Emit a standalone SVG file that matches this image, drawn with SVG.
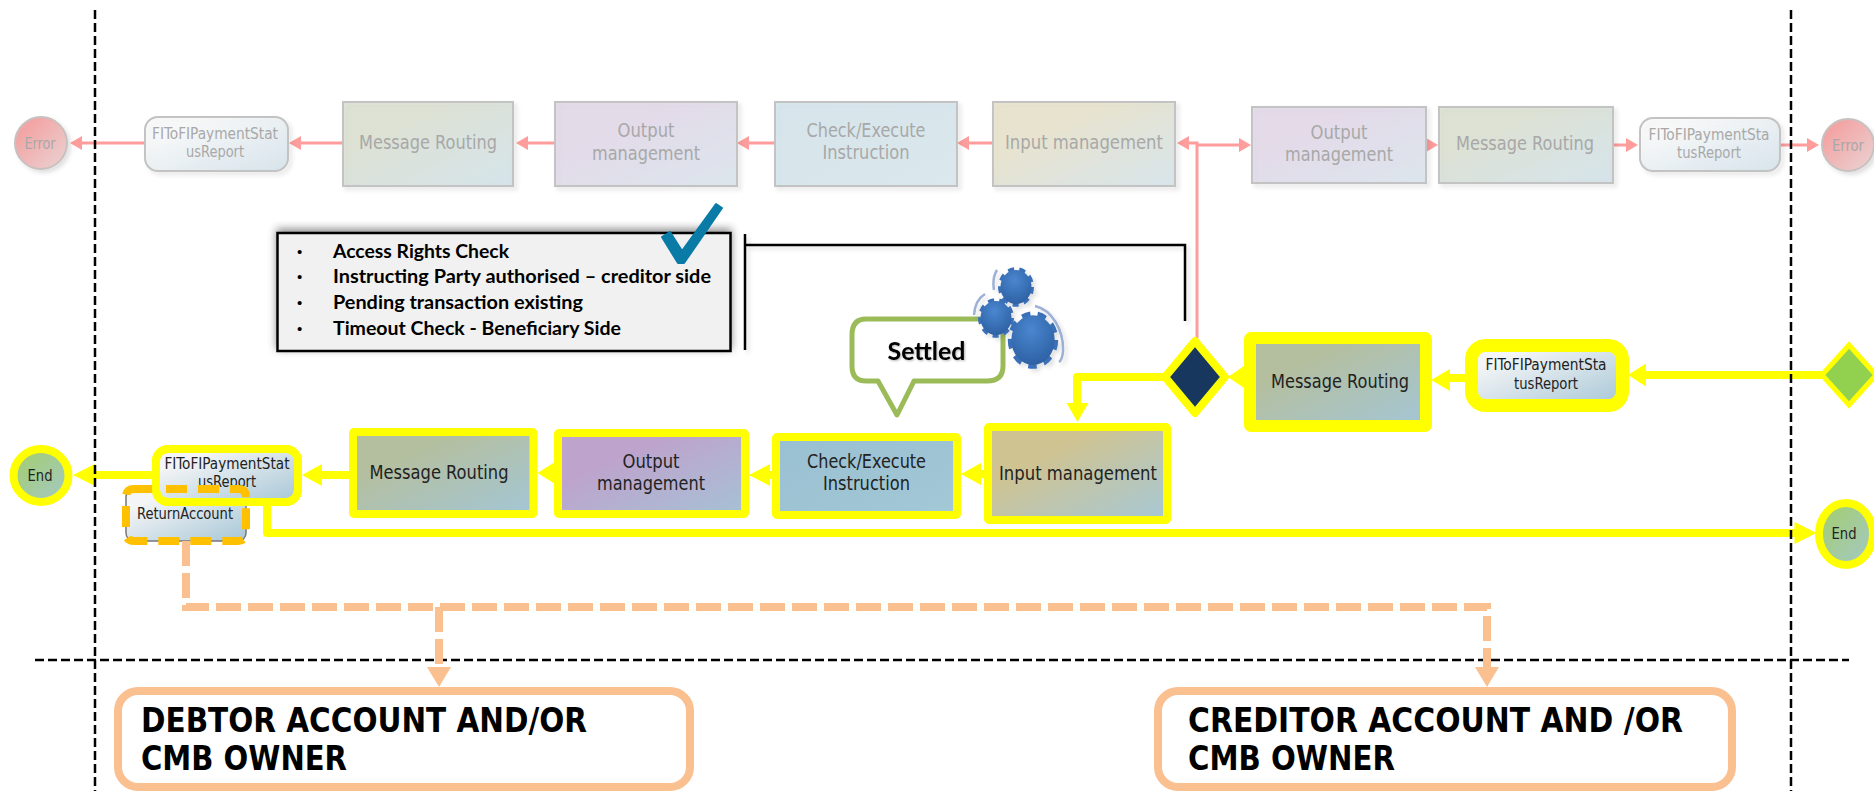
<svg xmlns="http://www.w3.org/2000/svg" width="1874" height="791" viewBox="0 0 1874 791">
<style>
text{font-family:"DejaVu Sans","Noto Sans",sans-serif;font-stretch:condensed;text-anchor:middle}
.t{font-size:19px;fill:#222}
.s{font-size:16px;fill:#222}
.ft{font-size:19px;fill:#a8a8a8}
.fs{font-size:16px;fill:#a8a8a8}
.info{font-family:Lato,"Liberation Sans",sans-serif;font-weight:700;font-size:19.500px;fill:#000;text-anchor:start;font-stretch:normal}
.dot{font-family:"Liberation Sans",sans-serif;font-size:15px;fill:#000;text-anchor:start;font-stretch:normal}
.head{font-weight:700;font-size:33px;fill:#000;text-anchor:start}
.fade{stroke:#c3c3c3;stroke-width:2;filter:url(#soft)}
.y{stroke:#ffff00;stroke-width:8;stroke-linejoin:round}
.p{stroke:#ff9c9c;stroke-width:3;fill:none}
.ph{fill:#ff9c9c}
.yl{stroke:#ffff00;stroke-width:8;fill:none;stroke-linejoin:round}
.yh{fill:#ffff00}
.od{stroke:#fac090;stroke-width:8;fill:none;stroke-dasharray:25 7}
.bl{stroke:#000;stroke-width:2.5;fill:none;stroke-dasharray:9 4}
.acct{fill:#fff;stroke:#fac090;stroke-width:8}
</style>
<defs>
<linearGradient id="gm" x1="0" y1="0" x2="1" y2="1"><stop offset="0.3" stop-color="#b4bfa0"/><stop offset="1" stop-color="#a3c6d6"/></linearGradient>
<linearGradient id="go" x1="0" y1="0" x2="1" y2="1"><stop offset="0.3" stop-color="#bea3cc"/><stop offset="1" stop-color="#a6c1d6"/></linearGradient>
<linearGradient id="gc" x1="0" y1="0" x2="1" y2="1"><stop offset="0" stop-color="#99c0d2"/><stop offset="1" stop-color="#a3c8d6"/></linearGradient>
<linearGradient id="gi" x1="0" y1="0" x2="1" y2="1"><stop offset="0.3" stop-color="#cfc391"/><stop offset="1" stop-color="#a6c8d6"/></linearGradient>
<linearGradient id="gf" x1="0" y1="0" x2="1" y2="1"><stop offset="0.2" stop-color="#f4f5f6"/><stop offset="1" stop-color="#a6c6d6"/></linearGradient>
<linearGradient id="ge" x1="0" y1="0" x2="1" y2="1"><stop offset="0.2" stop-color="#a3cd7c"/><stop offset="1" stop-color="#a3c8c8"/></linearGradient>
<linearGradient id="gr" x1="0" y1="0" x2="1" y2="1"><stop offset="0.2" stop-color="#f3a4a4"/><stop offset="1" stop-color="#ead4d4"/></linearGradient>
<radialGradient id="gg" cx="0.45" cy="0.3" r="0.8"><stop offset="0" stop-color="#4a86cf"/><stop offset="1" stop-color="#2a5c9e"/></radialGradient>
<filter id="soft" x="-10%" y="-10%" width="125%" height="125%"><feDropShadow dx="3" dy="3" stdDeviation="2" flood-color="#000" flood-opacity="0.12"/></filter>
<filter id="box" x="-5%" y="-10%" width="110%" height="120%"><feDropShadow dx="0" dy="-3" stdDeviation="4" flood-color="#000" flood-opacity="0.45"/></filter>
<filter id="tx" x="-5%" y="-20%" width="110%" height="140%"><feDropShadow dx="1" dy="1" stdDeviation="1" flood-color="#000" flood-opacity="0.3"/></filter>
<g id="gear"><circle r="16" fill="none" stroke="#3a70b8" stroke-width="4" stroke-dasharray="6 5.170"/><circle r="15.500" fill="url(#gg)"/></g>
</defs>
<rect width="1874" height="791" fill="#fff"/>

<g id="connectors">
<g id="pink-connectors">
<path class="p" d="M145 143H76M343 143H295M555 143H522M775 143H743M993 143H962M1197 338V143H1184M1197 145H1245M1426 145H1432M1613 145H1632M1780 145H1813"/>
<path class="ph" d="M70 143l12-7v14zM289 143l12-7v14zM516 143l12-7v14zM737 143l12-7v14zM957 143l12-7v14zM1177 143l12-7v14zM1251 145l-12-7v14zM1438 145l-12-7v14zM1638 145l-12-7v14zM1819 145l-12-7v14z"/>
</g>
<path d="M745 234V350M745 245H1185V321" fill="none" stroke="#000" stroke-width="2.5" filter="url(#soft)"/>
<g id="yellow-connectors">
<path class="yl" d="M1825 375H1640M1465 378H1445M1244 377H1235M1163 377H1077V405M984 474H975M772 475H765M554 473H545M349 475H318M152 475H90"/>
<path class="yh" d="M1628 375l18-11.500v23zM1431 380l19-11v22zM1228 377l16-11v22zM1077.500 422l-11-19h22zM961 474l20-11v22zM749 475l21-11v22zM537.500 473l17.500-11v22zM302 475l20-11v22zM73 475l22-11v22z"/>
<path class="yl" d="M267 506V533H1798"/>
<path class="yh" d="M1816.500 533l-22-11v22z"/>
</g>
</g>

<g id="dividers">
<path class="bl" d="M95 10V791M1791 10V791M35 660H1849"/>
</g>

<g id="err-left"><circle cx="41" cy="143" r="26" fill="url(#gr)" stroke="#c9c0c0" stroke-width="2" filter="url(#soft)"/><text class="fs" x="40" y="149" textLength="31" lengthAdjust="spacingAndGlyphs">Error</text></g>
<g id="status-top-left"><rect x="145" y="117" width="143" height="54" rx="13" fill="url(#gf)" fill-opacity="0.4" class="fade"/><text class="fs" x="215" y="139" textLength="126" lengthAdjust="spacingAndGlyphs">FIToFIPaymentStat</text><text class="fs" x="215" y="157" textLength="58" lengthAdjust="spacingAndGlyphs">usReport</text></g>
<g id="route-top-left"><rect x="343" y="102" width="170" height="84" fill="url(#gm)" fill-opacity="0.4" class="fade"/><text class="ft" x="428" y="149" textLength="138" lengthAdjust="spacingAndGlyphs">Message Routing</text></g>
<g id="output-top-left"><rect x="555" y="102" width="182" height="84" fill="url(#go)" fill-opacity="0.35" class="fade"/><text class="ft" x="646" y="137" textLength="57" lengthAdjust="spacingAndGlyphs">Output</text><text class="ft" x="646" y="160" textLength="108" lengthAdjust="spacingAndGlyphs">management</text></g>
<g id="check-top"><rect x="775" y="102" width="182" height="84" fill="url(#gc)" fill-opacity="0.35" class="fade"/><text class="ft" x="866" y="137" textLength="119" lengthAdjust="spacingAndGlyphs">Check/Execute</text><text class="ft" x="866" y="159" textLength="87" lengthAdjust="spacingAndGlyphs">Instruction</text></g>
<g id="input-top"><rect x="993" y="102" width="182" height="84" fill="url(#gi)" fill-opacity="0.4" class="fade"/><text class="ft" x="1084" y="149" textLength="158" lengthAdjust="spacingAndGlyphs">Input management</text></g>
<g id="output-top-right"><rect x="1252" y="107" width="174" height="76" fill="url(#go)" fill-opacity="0.35" class="fade"/><text class="ft" x="1339" y="139" textLength="57" lengthAdjust="spacingAndGlyphs">Output</text><text class="ft" x="1339" y="161" textLength="108" lengthAdjust="spacingAndGlyphs">management</text></g>
<g id="route-top-right"><rect x="1439" y="107" width="174" height="76" fill="url(#gm)" fill-opacity="0.4" class="fade"/><text class="ft" x="1525" y="150" textLength="138" lengthAdjust="spacingAndGlyphs">Message Routing</text></g>
<g id="status-top-right"><rect x="1640" y="118" width="140" height="53" rx="13" fill="url(#gf)" fill-opacity="0.4" class="fade"/><text class="fs" x="1709" y="140" textLength="121" lengthAdjust="spacingAndGlyphs">FIToFIPaymentSta</text><text class="fs" x="1709" y="158" textLength="64" lengthAdjust="spacingAndGlyphs">tusReport</text></g>
<g id="err-right"><circle cx="1848" cy="145" r="26" fill="url(#gr)" stroke="#c9c0c0" stroke-width="2" filter="url(#soft)"/><text class="fs" x="1848" y="151" textLength="32" lengthAdjust="spacingAndGlyphs">Error</text></g>

<g id="info-box">
<rect x="277.500" y="233" width="453" height="118" fill="#f1f1f1" stroke="#000" stroke-width="2.500" filter="url(#box)"/>
<text class="dot" x="297" y="257">•</text><text class="info" x="333" y="258" textLength="176" lengthAdjust="spacingAndGlyphs">Access Rights Check</text>
<text class="dot" x="297" y="282">•</text><text class="info" x="333" y="283" textLength="378" lengthAdjust="spacingAndGlyphs">Instructing Party authorised – creditor side</text>
<text class="dot" x="297" y="308">•</text><text class="info" x="333" y="309" textLength="250" lengthAdjust="spacingAndGlyphs">Pending transaction existing</text>
<text class="dot" x="297" y="334">•</text><text class="info" x="333" y="335" textLength="288" lengthAdjust="spacingAndGlyphs">Timeout Check - Beneficiary Side</text>
</g>
<g id="check-mark"><path d="M662 237L670 232L682 251L716 204L722 208L684 263L678 263Z" fill="#0a7aa6" stroke="#0a7aa6" stroke-width="2" stroke-linejoin="round"/></g>

<g id="settled">
<path d="M866 319H987Q1003 319 1003 335V366Q1003 381 987 381H914L897 415L878 381H866Q852 381 852 366V335Q852 319 866 319Z" fill="#fff" stroke="#9bbb59" stroke-width="5" stroke-linejoin="round"/>
<text x="926.500" y="360" font-weight="700" font-size="24" style="font-family:Lato,'Liberation Sans',sans-serif;font-stretch:normal" filter="url(#tx)" textLength="78" lengthAdjust="spacingAndGlyphs">Settled</text>
</g>
<g id="gears" filter="url(#soft)">
<use href="#gear" transform="translate(1033 340) scale(1.4 1.6)"/>
<use href="#gear" transform="translate(996 318) scale(1 1.1)"/>
<use href="#gear" transform="translate(1016 287) scale(1 1.1)"/>
<path d="M1035 306C1052 310 1064 330 1063 352Q1062 360 1059 362M974 315Q975 300 985 294M994 290Q992 278 997 270" fill="none" stroke="#9db0d5" stroke-width="2.500"/>
</g>

<g id="diamond-dark"><path d="M1195 341L1225 377L1195 413L1165 377Z" fill="#17375e" stroke="#ffff00" stroke-width="8" stroke-linejoin="round"/></g>
<g id="diamond-green"><path d="M1849 345L1876 375L1849 405L1822 375Z" fill="#92d050" stroke="#ffff00" stroke-width="5"/></g>

<g id="route-bottom-right"><rect x="1250" y="338" width="176" height="88" rx="1" fill="url(#gm)" stroke="#ffff00" stroke-width="12" stroke-linejoin="round"/><text class="t" x="1340" y="388" textLength="138" lengthAdjust="spacingAndGlyphs">Message Routing</text></g>
<g id="status-bottom-right"><rect x="1471.500" y="345.500" width="151" height="60" rx="14" fill="url(#gf)" stroke="#ffff00" stroke-width="13"/><text class="s" x="1546" y="370" textLength="121" lengthAdjust="spacingAndGlyphs">FIToFIPaymentSta</text><text class="s" x="1546" y="389" textLength="64" lengthAdjust="spacingAndGlyphs">tusReport</text></g>

<g id="input-bottom"><rect x="988" y="427" width="179" height="93" rx="1" fill="url(#gi)" class="y"/><text class="t" x="1078" y="480" textLength="158" lengthAdjust="spacingAndGlyphs">Input management</text></g>
<g id="check-bottom"><rect x="776" y="437" width="181" height="78" rx="1" fill="url(#gc)" class="y"/><text class="t" x="866.500" y="468" textLength="119" lengthAdjust="spacingAndGlyphs">Check/Execute</text><text class="t" x="866.500" y="490" textLength="87" lengthAdjust="spacingAndGlyphs">Instruction</text></g>
<g id="output-bottom"><rect x="558" y="433" width="187" height="81" rx="1" fill="url(#go)" class="y"/><text class="t" x="651" y="468" textLength="57" lengthAdjust="spacingAndGlyphs">Output</text><text class="t" x="651" y="490" textLength="108" lengthAdjust="spacingAndGlyphs">management</text></g>
<g id="route-bottom-left"><rect x="353" y="432" width="180.500" height="82" rx="1" fill="url(#gm)" class="y"/><text class="t" x="439" y="479" textLength="139" lengthAdjust="spacingAndGlyphs">Message Routing</text></g>

<g id="return-account"><rect x="126" y="489" width="120" height="52" rx="8" fill="url(#gf)" stroke="#777" stroke-width="1.500"/><text class="s" x="185" y="519" textLength="96" lengthAdjust="spacingAndGlyphs">ReturnAccount</text></g>
<g id="status-bottom-left"><rect x="156" y="449" width="142" height="53" rx="12" fill="url(#gf)" class="y"/><text class="s" x="227" y="469" textLength="125" lengthAdjust="spacingAndGlyphs">FIToFIPaymentStat</text><text class="s" x="227" y="487" textLength="58" lengthAdjust="spacingAndGlyphs">usReport</text></g>
<g id="return-dash"><path d="M134 489H238Q246 489 246 497V533Q246 541 238 541H134Q126 541 126 533V497Q126 489 134 489Z" fill="none" stroke="#ffc000" stroke-width="8" stroke-dasharray="21 11"/><rect x="156" y="449" width="142" height="53" rx="12" fill="none" class="y"/></g>
<g id="end-left"><ellipse cx="41" cy="475.500" rx="27.500" ry="26.500" fill="url(#ge)" class="y"/><text class="s" x="40" y="481" textLength="25" lengthAdjust="spacingAndGlyphs">End</text></g>
<g id="end-right"><ellipse cx="1846" cy="534" rx="27" ry="31" fill="url(#ge)" class="y"/><text class="s" x="1844" y="539" textLength="25" lengthAdjust="spacingAndGlyphs">End</text></g>

<g id="orange-connectors">
<path class="od" d="M186 541V607H1487V667"/>
<path class="od" d="M439 607V667"/>
<path d="M439 687l-12-20h24zM1487 687l-12-20h24z" fill="#fac090"/>
</g>
<g id="debtor"><rect x="118" y="691" width="572" height="96" rx="20" class="acct"/><text class="head" x="141" y="732" textLength="446" lengthAdjust="spacingAndGlyphs">DEBTOR ACCOUNT AND/OR</text><text class="head" x="141" y="770" textLength="206" lengthAdjust="spacingAndGlyphs">CMB OWNER</text></g>
<g id="creditor"><rect x="1158" y="691" width="574" height="96" rx="20" class="acct"/><text class="head" x="1188" y="732" textLength="495" lengthAdjust="spacingAndGlyphs">CREDITOR ACCOUNT AND /OR</text><text class="head" x="1188" y="770" textLength="207" lengthAdjust="spacingAndGlyphs">CMB OWNER</text></g>
</svg>
